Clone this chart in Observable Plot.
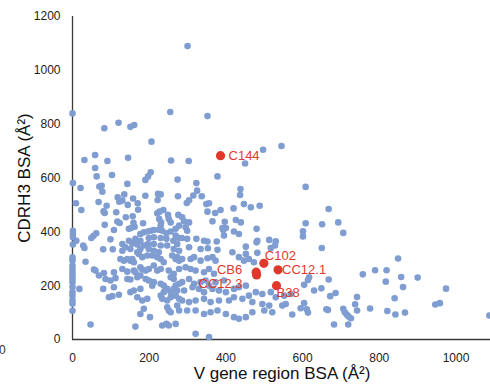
<!DOCTYPE html>
<html><head><meta charset="utf-8">
<script src="https://cdn.jsdelivr.net/npm/d3@7"></script>
<script src="https://cdn.jsdelivr.net/npm/@observablehq/plot@0.6"></script>
<style>
body{margin:0;background:#fff;font-family:Arial,"Liberation Sans",sans-serif;}
#wrap{position:relative;width:490px;height:384px;overflow:hidden;}
#wrap svg{position:absolute;left:0;top:0;}
#stray{position:absolute;left:-1px;top:344px;font-size:12px;line-height:1;color:#333;}
.ttl{position:absolute;font-size:17px;line-height:17px;color:#111;white-space:nowrap;}
#xt{left:282px;top:365px;transform:translateX(-50%);}
#yt{left:24px;top:178px;transform:translate(-50%,-50%) rotate(-90deg);}
</style></head><body>
<div id="wrap"><div id="stray">0</div></div>
<script>
// Blue points: [V gene region BSA, CDRH3 BSA] (Å²)
const antibodyBSA = [
[300,1090],[0,840],[255,845],[352,830],[120,805],[83,785],[151,790],[161,797],[206,735],[303,663],[450,654],[497,705],[545,719],[608,567],[323,581],[325,553],[315,535],[337,532],[304,517],[438,559],[437,537],[378,606],[274,594],
[31,667],[59,685],[91,663],[145,675],[257,665],[59,637],[63,606],[103,611],[204,621],[197,606],[190,593],[1,581],[21,563],[70,568],[76,571],[78,549],[143,578],[223,541],[230,539],[222,518],[190,534],[275,532],[158,524],[118,528],[135,539],[130,516],[122,512],[9,506],[23,481],[68,511],[89,497],[81,476],[84,470],[144,500],[170,506],[171,482],[114,473],[139,454],[157,458],[221,469],[227,475],[237,481],[249,463],[226,448],[231,435],[230,423],[251,448],[276,463],[84,426],[117,438],[123,433],[159,434],[162,419],[184,432],[147,411],[153,414],[108,407],[1,404],[1,392],[1,380],[62,395],[55,385],[49,377],[99,372],[10,367],[1,353],[28,349],[31,340],[80,335],[105,335],
[177,392],[186,398],[197,401],[204,404],[212,407],[225,408],[234,404],[245,395],[256,401],[269,386],[278,377],[199,377],[212,380],[230,377],[245,374],[263,367],[273,355],[197,355],[186,349],[169,353],[156,357],[147,367],[164,374],[177,367],[212,355],[230,349],[247,349],[264,336],[199,336],[177,336],[151,336],[138,343],[130,355],[278,423],[269,411],[256,435],
[130,330],[169,324],[173,318],[212,330],[225,324],[278,330],[34,289],[125,299],[134,293],[143,299],[151,293],[156,299],[160,287],[182,306],[195,312],[208,312],[221,306],[230,299],[238,287],[260,312],[269,299],[278,293],[56,260],[60,256],[82,247],[108,250],[130,262],[143,252],[160,256],[164,250],[177,268],[182,260],[191,256],[199,262],[212,275],[221,256],[230,262],[251,256],[264,244],[278,262],[69,238],[86,225],[99,219],[112,228],[143,225],[151,223],[169,231],[177,238],[191,225],[199,219],[208,200],[212,213],[230,207],[238,200],[256,231],[264,225],[269,200],[278,207],[18,188],[80,188],[108,194],[151,176],[160,182],[177,188],[238,176],[247,188],[256,176],[264,188],[273,182],[95,157],[104,161],[121,166],[169,157],[182,145],[195,151],[230,163],[234,151],[247,145],[256,157],[269,163],[278,151],[186,114],[177,95],[202,83],[247,120],[251,108],[256,101],[273,126],[278,108],[47,56],[164,48],[234,52],[245,58],[251,52],[269,58],
[0,305],[0,293],[0,274],[0,262],[0,250],[0,238],[0,226],[0,213],[0,195],[0,176],[0,163],[0,145],[0,133],[0,107],
[298,507],[349,503],[356,506],[352,475],[372,470],[386,481],[420,487],[447,503],[465,491],[488,497],[286,454],[304,435],[291,439],[295,417],[285,377],[299,404],[299,374],[304,343],[323,374],[365,439],[397,437],[391,414],[400,414],[393,407],[395,386],[426,444],[439,435],[421,401],[434,392],[480,411],[482,367],[480,361],[343,367],[352,364],[376,364],[513,370],[530,365],[528,349],[334,336],[353,339],[378,333],[452,345],[517,340],
[417,324],[452,318],[482,322],[273,306],[286,299],[308,299],[317,306],[334,293],[352,302],[365,306],[373,293],[434,306],[447,293],[460,299],[473,287],[295,268],[308,262],[321,256],[343,250],[356,262],[369,244],[286,213],[304,225],[317,207],[334,213],[347,219],[356,200],[373,213],[395,219],[291,182],[313,194],[330,188],[343,176],[365,188],[382,182],[400,176],[421,188],[434,194],[452,200],[460,163],[478,176],[495,169],[517,176],[530,157],[552,163],[569,169],[286,145],[304,139],[321,145],[343,151],[360,139],[382,145],[408,145],[421,157],[443,151],[469,139],[495,132],[513,126],[547,126],[556,132],[299,108],[321,108],[343,95],[360,101],[378,108],[400,95],[421,83],[434,77],[452,83],[469,101],[500,108],[521,101],[321,21],[356,9],
[668,485],[608,432],[651,428],[693,435],[706,396],[601,402],[601,383],[650,340],[849,301],[789,257],[819,257],[757,242],[857,232],[817,215],[862,195],[617,231],[614,221],[604,203],[668,223],[649,190],[630,182],[686,173],[672,161],[742,158],[604,135],[595,116],[611,112],[614,100],[573,93],[662,112],[666,110],[737,131],[706,114],[710,101],[715,93],[720,85],[726,79],[742,108],[776,115],[840,153],[821,106],[842,93],[867,100],[682,56],[719,56],
[900,230],[974,189],[946,130],[958,135],[1087,89]
];

// Highlighted antibodies
const labelNames = ["C144", "C102", "CB6", "CC12.3", "CC12.1", "B38"];
const labelV     = [386, 499, 479, 480, 536, 532];
const labelH3    = [683, 283, 250, 240, 259, 200];

const xTicks = [0, 200, 400, 600, 800, 1000];
const yTicks = [0, 200, 400, 600, 800, 1000, 1200];
const xTitle = "V gene region BSA (Å²)";
const yTitle = "CDRH3 BSA (Å²)";

// label placement styles
const labelStyle = {
  "C144":   {dx: 8,   dy: 0,  anchor: "start"},
  "C102":   {dx: 1,   dy: -7, anchor: "start"},
  "CB6":    {dx: -14, dy: -2, anchor: "end"},
  "CC12.3": {dx: -14, dy: 9,  anchor: "end"},
  "CC12.1": {dx: 4,   dy: 0,  anchor: "start"},
  "B38":    {dx: 0,   dy: 7,  anchor: "start"}
};

const labeled = labelNames.map((n, i) => ({name: n, v: labelV[i], h3: labelH3[i]}));
const FONT = "Arial, 'Liberation Sans', sans-serif";
const RED = "#e0392b";

const chart = Plot.plot({
  width: 490,
  height: 384,
  marginLeft: 72,
  marginRight: 0,
  marginTop: 16,
  marginBottom: 45,
  style: {fontFamily: FONT, fontSize: "12px", color: "#222", background: "transparent", overflow: "visible"},
  x: {domain: [0, 1090], ticks: xTicks, tickFormat: d => String(d), tickSize: 0, tickPadding: 14, label: null},
  y: {domain: [0, 1200], ticks: yTicks, tickFormat: d => String(d), tickSize: 0, tickPadding: 12, label: null},
  marks: [
    Plot.ruleY([0], {stroke: "#3a3a3a", strokeWidth: 1.3}),
    Plot.ruleX([0], {stroke: "#3a3a3a", strokeWidth: 1.3}),
    Plot.dot(antibodyBSA, {x: d => d[0], y: d => d[1], r: 3.3, fill: "#7f9dd1", stroke: "none"}),
    Plot.dot(labeled, {x: "v", y: "h3", r: 4.6, fill: RED, stroke: "none"}),
    ...labeled.map(d => Plot.text([d], {
      x: "v", y: "h3", text: "name",
      dx: labelStyle[d.name].dx, dy: labelStyle[d.name].dy,
      textAnchor: labelStyle[d.name].anchor,
      fill: RED, fontSize: 13, fontFamily: FONT
    }))
  ]
});
const wrap = document.getElementById("wrap");
wrap.appendChild(chart);
const xt = document.createElement("div"); xt.className = "ttl"; xt.id = "xt"; xt.textContent = xTitle; wrap.appendChild(xt);
const yt = document.createElement("div"); yt.className = "ttl"; yt.id = "yt"; yt.textContent = yTitle; wrap.appendChild(yt);
</script>
</body></html>
